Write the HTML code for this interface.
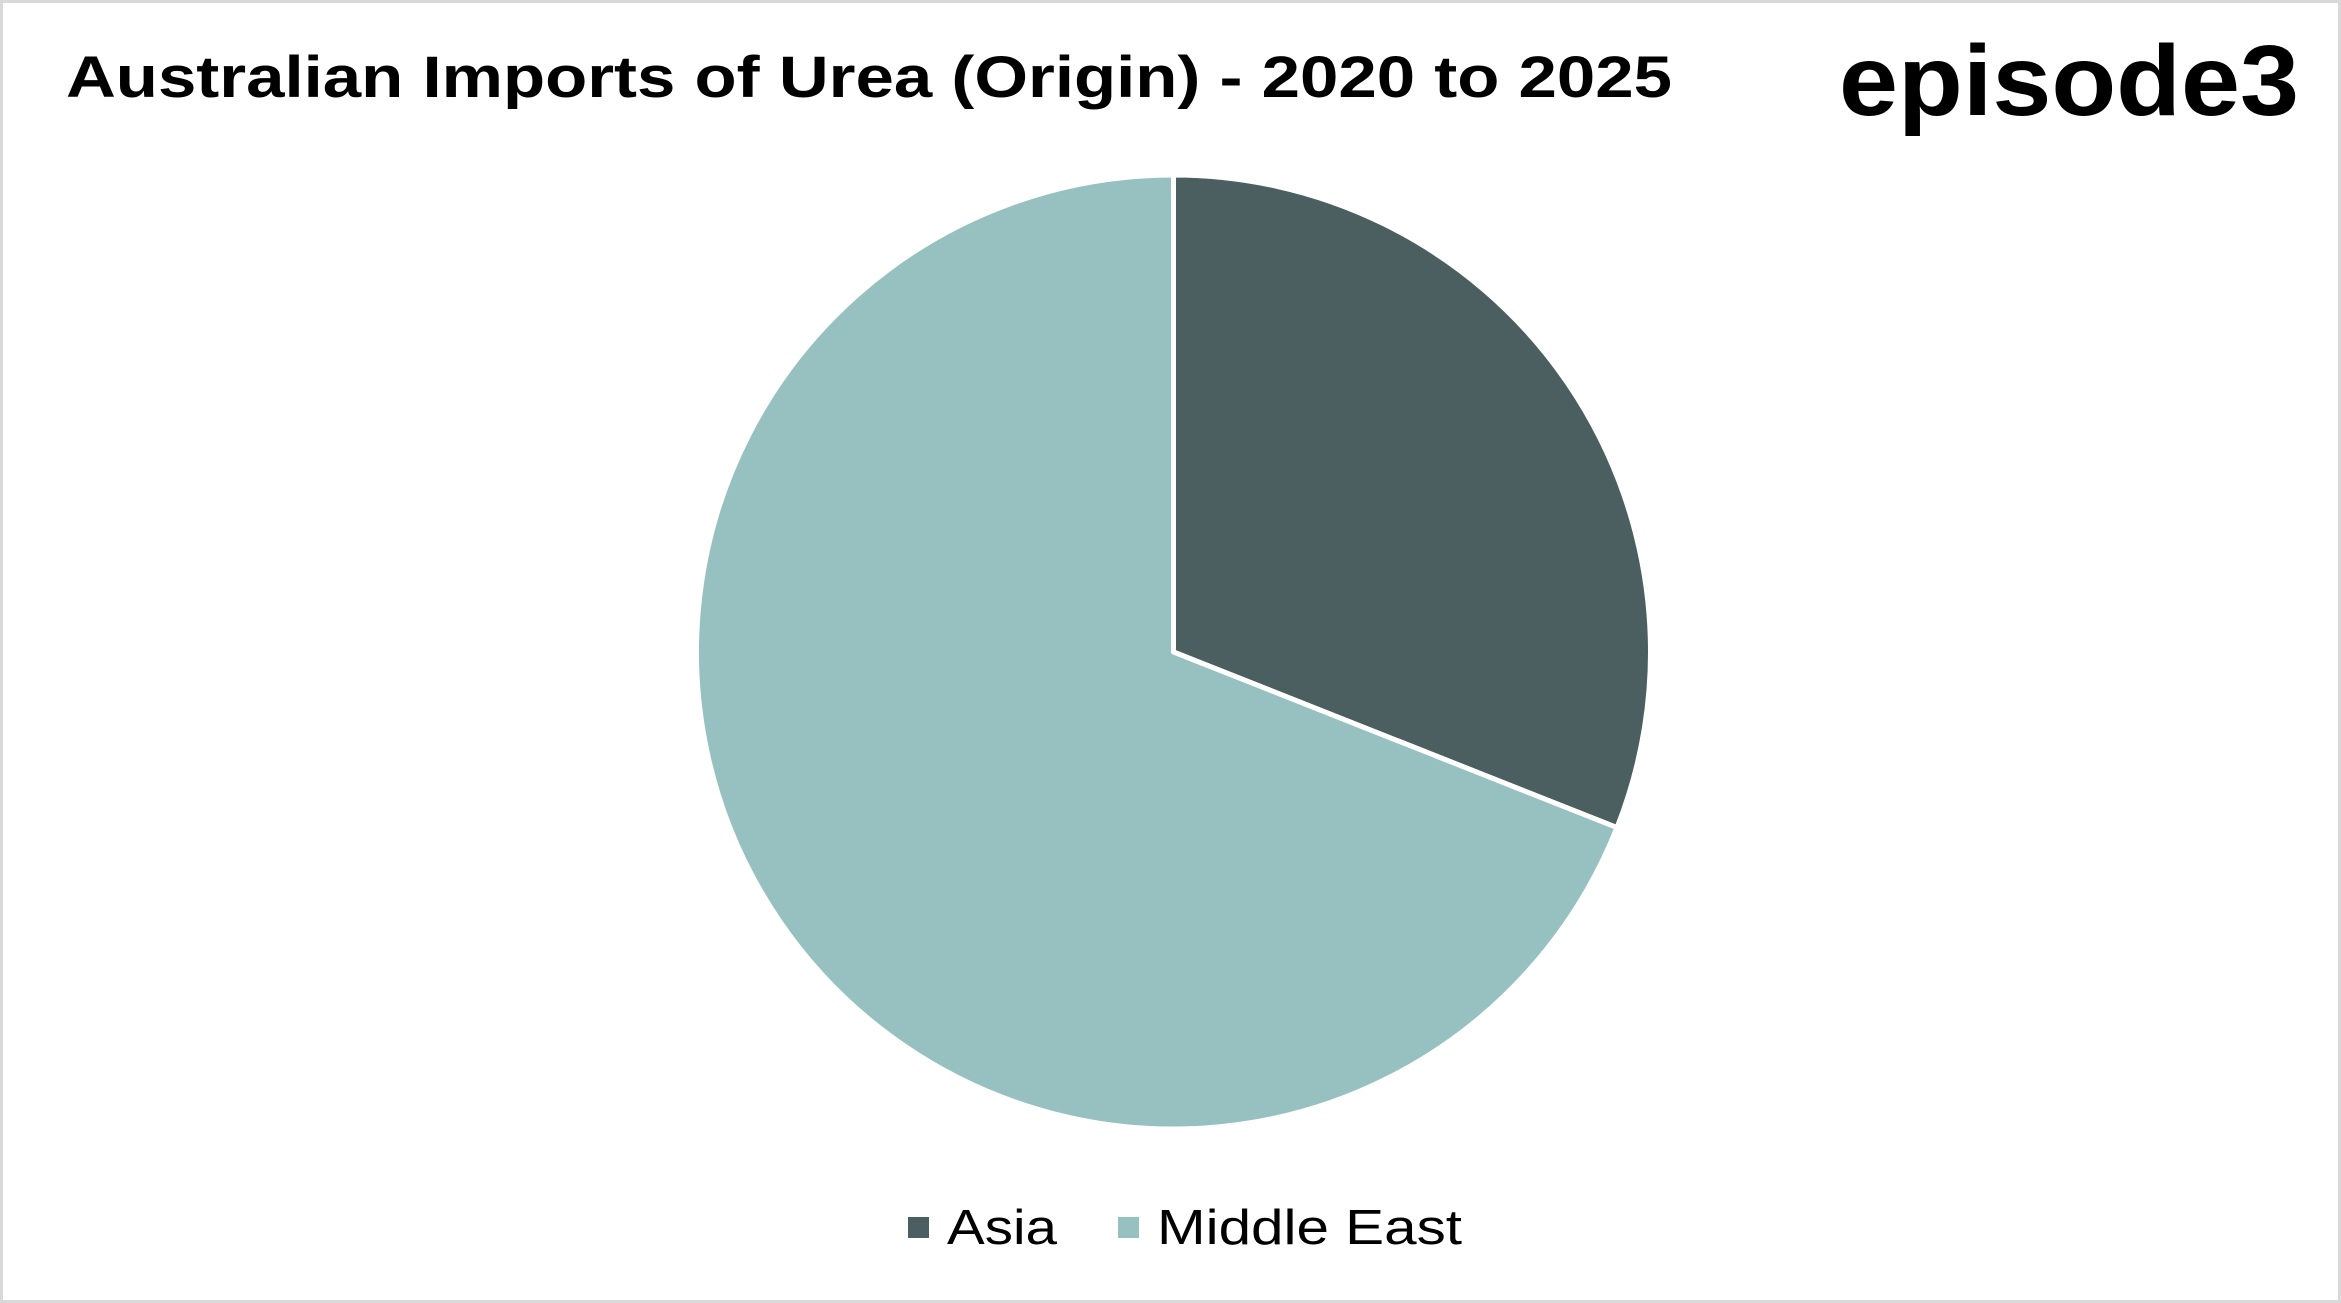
<!DOCTYPE html>
<html><head><meta charset="utf-8">
<style>
html,body{margin:0;padding:0;background:#fff;}
#wrap{position:relative;width:2341px;height:1303px;box-sizing:border-box;border:3px solid #d9d9d9;background:#fff;overflow:hidden;}
svg{position:absolute;left:0;top:0;}
</style></head>
<body>
<div id="wrap">
<svg id="chart" width="2341" height="1303" viewBox="0 0 2341 1303">
  <text x="63" y="94" font-family="Liberation Sans, sans-serif" font-weight="bold" font-size="58" textLength="1606" lengthAdjust="spacingAndGlyphs" fill="#000">Australian Imports of Urea (Origin) - 2020 to 2025</text>
  <text x="1836" y="112" font-family="Liberation Sans, sans-serif" font-weight="bold" font-size="100" textLength="460" lengthAdjust="spacingAndGlyphs" fill="#000">episode3</text>
  <g id="slices"></g>
  <g id="legend"></g>
</svg>
</div>
<script>
const categories = ["Asia", "Middle East"];
const values = [31, 69];
const colors = ["#4b5e60", "#97c1c0"];

const svg = document.getElementById('chart');
const NS = 'http://www.w3.org/2000/svg';
const cx = 1170.5, cy = 649, r = 477;
const total = values.reduce((a,b)=>a+b,0);
function pt(frac){ const a = frac*2*Math.PI; return [cx + r*Math.sin(a), cy - r*Math.cos(a)]; }
let acc = 0;
const g = document.getElementById('slices');
values.forEach((v,i)=>{
  const f0 = acc/total, f1 = (acc+v)/total; acc += v;
  const [x0,y0] = pt(f0), [x1,y1] = pt(f1);
  const large = (f1-f0) > 0.5 ? 1 : 0;
  const p = document.createElementNS(NS,'path');
  p.setAttribute('d', `M${cx},${cy} L${x0},${y0} A${r},${r} 0 ${large} 1 ${x1},${y1} Z`);
  p.setAttribute('fill', colors[i]);
  p.setAttribute('stroke', '#fff');
  p.setAttribute('stroke-width', '5');
  p.setAttribute('stroke-linejoin', 'round');
  
  
  g.appendChild(p);
});
const lg = document.getElementById('legend');
const legendX = [905, 1115];
const legendW = [110, 305];
categories.forEach((c,i)=>{
  const rect = document.createElementNS(NS,'rect');
  rect.setAttribute('x', legendX[i]); rect.setAttribute('y', 1214);
  rect.setAttribute('width', 21); rect.setAttribute('height', 21);
  rect.setAttribute('fill', colors[i]);
  
  
  lg.appendChild(rect);
  const t = document.createElementNS(NS,'text');
  t.setAttribute('x', legendX[i] + 39); t.setAttribute('y', 1241);
  t.setAttribute('font-family', 'Liberation Sans, sans-serif');
  t.setAttribute('font-size', '49'); t.setAttribute('fill', '#000');
  t.setAttribute('textLength', legendW[i]);
  t.setAttribute('lengthAdjust', 'spacingAndGlyphs');
  t.textContent = c;
  
  
  lg.appendChild(t);
});
</script>
</body></html>
